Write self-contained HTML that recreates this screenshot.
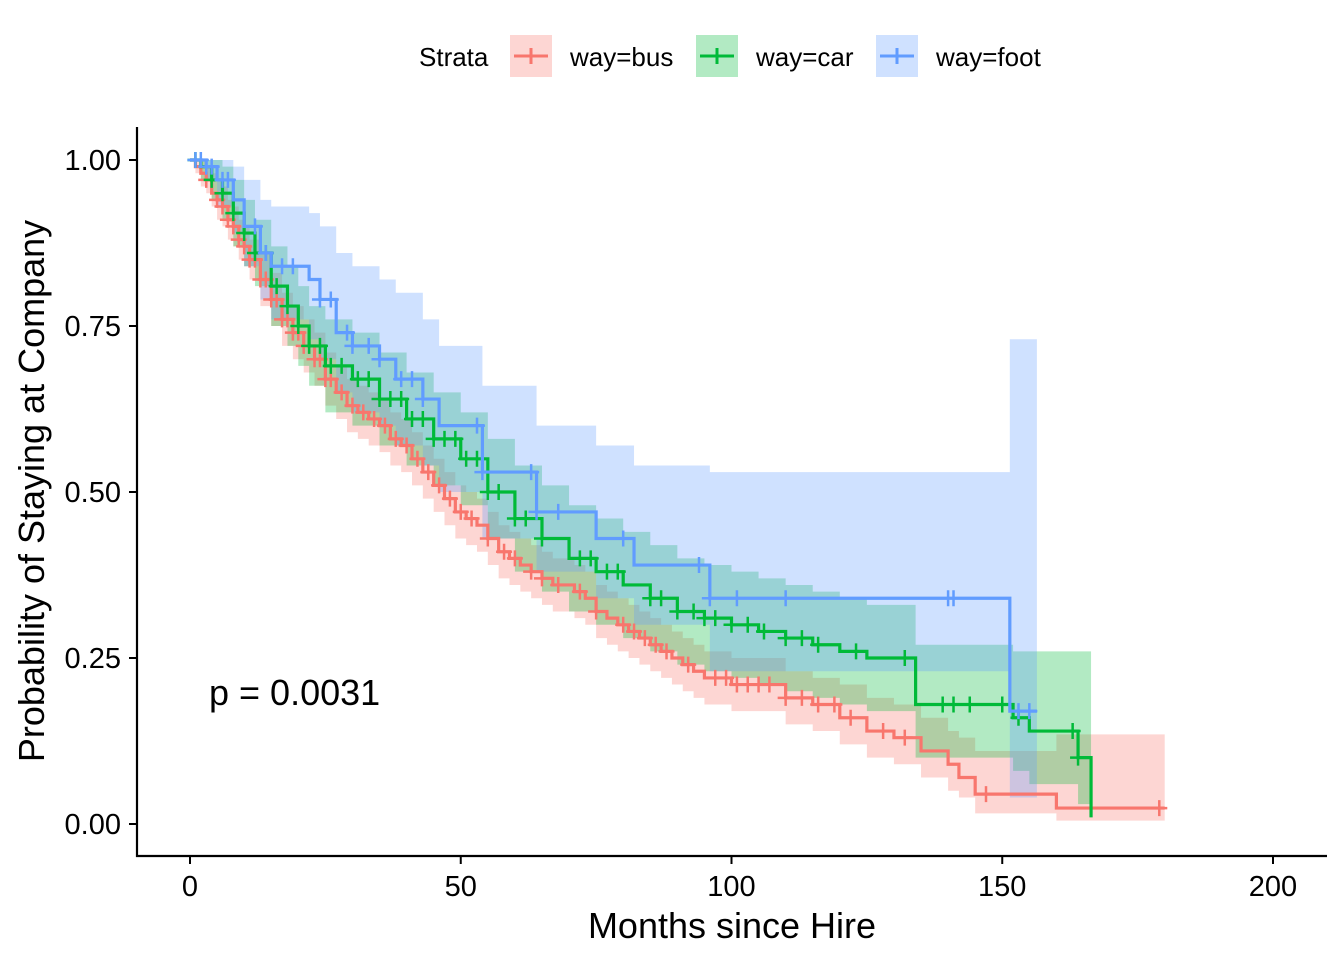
<!DOCTYPE html>
<html><head><meta charset="utf-8"><style>
html,body{margin:0;padding:0;background:#fff;}
svg{display:block;font-family:"Liberation Sans",Arial,sans-serif;}
</style></head><body>
<svg id="chart" width="1344" height="960">
<g id="bands"></g>
<g id="lines"></g>
<g id="axes"></g>
<g id="legend"></g>
<text x="209" y="705" font-size="36">p = 0.0031</text>
<text x="732" y="938" font-size="36" text-anchor="middle">Months since Hire</text>
<text transform="translate(44,491) rotate(-90)" font-size="36" text-anchor="middle">Probability of Staying at Company</text>
</svg>
<script>
const busT=[0,1,2,3,4,5,6,7,8,9,10,11,13,15,17,19,21,23,25,27,29,31,33,35,37,39,41,43,45,47,49,51,53,55,57,59,61,63,65,67,69,71,73,75,77,79,81,83,85,87,89,91,93,95,100,105,110,115,120,125,130,135,140,142,145,160,180];
const busS=[1,.99,.98,.97,.95,.94,.93,.91,.90,.88,.87,.85,.82,.79,.76,.74,.72,.70,.67,.65,.63,.62,.61,.60,.58,.57,.55,.53,.51,.49,.47,.46,.45,.43,.41,.40,.39,.38,.37,.36,.36,.35,.34,.32,.31,.30,.29,.28,.27,.26,.25,.24,.23,.22,.21,.21,.19,.18,.16,.14,.13,.11,.09,.07,.045,.024,.024];
const busU=[1,1,1,.99,.98,.97,.96,.94,.93,.91,.90,.88,.86,.83,.80,.78,.76,.74,.71,.69,.67,.66,.65,.64,.62,.61,.59,.57,.55,.53,.51,.50,.49,.47,.45,.44,.43,.42,.41,.40,.40,.39,.38,.36,.35,.34,.33,.32,.31,.30,.29,.28,.27,.26,.25,.25,.23,.22,.21,.19,.18,.16,.14,.13,.11,.135,.135];
const busL=[1,.98,.96,.95,.93,.91,.90,.88,.87,.85,.84,.82,.78,.75,.72,.70,.68,.66,.63,.61,.59,.58,.57,.56,.54,.53,.51,.49,.47,.45,.43,.42,.41,.39,.37,.36,.35,.34,.33,.32,.32,.31,.30,.28,.27,.26,.25,.24,.23,.22,.21,.20,.19,.18,.17,.17,.15,.14,.12,.10,.09,.07,.05,.04,.016,.005,.005];
const busC=[3,5,6,7,8,9,10,11,12,13,14,15,16,17,18,19,20,21,22,23,24,25,26,28,30,32,34,36,38,40,42,44,46,48,50,52,55,58,60,63,65,68,72,75,80,82,84,86,88,92,97,99,101,103,105,107,110,113,116,119,122,128,132,147,179];
const carT=[0,2,4,6,8,10,12,15,18,20,22,25,30,35,40,45,50,55,60,65,70,75,80,85,90,95,100,105,110,115,120,125,134,152,155,164,166.4];
const carS=[1,.99,.97,.95,.92,.89,.86,.81,.78,.75,.72,.69,.67,.64,.61,.58,.55,.50,.46,.43,.40,.38,.36,.34,.32,.31,.30,.29,.28,.27,.26,.25,.18,.16,.14,.10,.01];
const carU=[1,1,1,.99,.97,.94,.91,.87,.84,.81,.78,.76,.74,.71,.68,.65,.62,.58,.54,.51,.48,.46,.44,.42,.40,.39,.38,.37,.36,.35,.34,.33,.27,.26,.26,.26,.26];
const carL=[1,.97,.94,.91,.87,.84,.81,.75,.72,.69,.66,.62,.60,.57,.54,.51,.48,.43,.38,.35,.32,.30,.28,.26,.24,.23,.22,.21,.20,.19,.18,.17,.10,.08,.06,.03,.01];
const carC=[1,4,6,8,10,12,14,16,18,20,22,24,26,28,31,33,35,37,39,41,43,45,47,49,51,53,55,57,60,62,65,72,74,77,79,85,87,90,93,95,97,100,103,106,110,113,116,123,132,139,141,144,150,153,163,164];
const footT=[0,3,5,8,10,13,15,22,24,27,30,35,38,43,46,54,64,75,82,96,151.4,156.4];
const footS=[1,.99,.97,.94,.90,.86,.84,.82,.79,.74,.72,.70,.67,.64,.60,.53,.47,.43,.39,.34,.17,.17];
const footU=[1,1,1,.99,.97,.94,.93,.92,.90,.86,.84,.82,.80,.76,.72,.66,.60,.57,.54,.53,.73,.73];
const footL=[1,.97,.93,.89,.84,.79,.76,.73,.70,.65,.62,.60,.57,.54,.50,.43,.38,.34,.30,.23,.04,.04];
const footC=[1,2,3,4,6,7,12,14,17,19,24,26,29,30,33,35,39,41,43,53,54,63,64,68,80,94,96,101,110,140,141,153,155];
const xTicks=[0,50,100,150,200];
const yTicks=[0,0.25,0.5,0.75,1];
const yTickLabels=["0.00","0.25","0.50","0.75","1.00"];
const strata=["way=bus","way=car","way=foot"];

const X=t=>190+t*(1273-190)/200, Y=s=>824-s*664;
const NS="http://www.w3.org/2000/svg";
function mk(tag,parent,at){const e=document.createElementNS(NS,tag);for(const k in at)e.setAttribute(k,at[k]);parent.appendChild(e);return e;}
function stepPts(T,S){let p=[];for(let i=0;i<T.length;i++){if(i>0)p.push([X(T[i]),Y(S[i-1])]);p.push([X(T[i]),Y(S[i])]);}return p;}
function stepAt(T,S,t){let v=S[0];for(let i=0;i<T.length;i++){if(T[i]<=t)v=S[i];}return v;}
const series=[
 {n:"bus",T:busT,S:busS,U:busU,L:busL,C:busC,col:"#F8766D"},
 {n:"car",T:carT,S:carS,U:carU,L:carL,C:carC,col:"#00BA38"},
 {n:"foot",T:footT,S:footS,U:footU,L:footL,C:footC,col:"#619CFF"}];
const bands=document.getElementById('bands'),lines=document.getElementById('lines');
series.forEach(s=>{
 const up=stepPts(s.T,s.U),lo=stepPts(s.T,s.L).reverse();
 const b=mk('polygon',bands,{points:up.concat(lo).map(p=>p.join(',')).join(' '),fill:s.col,'fill-opacity':0.3});
 
 
});
series.forEach(s=>{
 const l=mk('polyline',lines,{points:stepPts(s.T,s.S).map(p=>p.join(',')).join(' '),fill:'none',stroke:s.col,'stroke-width':3.2});
 
 
 s.C.forEach(t=>{
  const x=X(t),y=Y(stepAt(s.T,s.S,t));
  const c=mk('path',lines,{d:`M${x-8},${y}H${x+8}M${x},${y-8}V${y+8}`,stroke:s.col,'stroke-width':2.5});
  
  
 });
});
const ax=document.getElementById('axes');
mk('path',ax,{d:'M137,127V856H1327',fill:'none',stroke:'#000','stroke-width':2.2});
xTicks.forEach(t=>{
 mk('line',ax,{x1:X(t),x2:X(t),y1:856,y2:864,stroke:'#000','stroke-width':2});
 const tx=mk('text',ax,{x:X(t),y:896,'font-size':29,'text-anchor':'middle',fill:'#000'});tx.textContent=t;
 
 
});
yTicks.forEach((v,i)=>{
 mk('line',ax,{x1:129,x2:137,y1:Y(v),y2:Y(v),stroke:'#000','stroke-width':2});
 const tx=mk('text',ax,{x:121,y:Y(v)+10,'font-size':29,'text-anchor':'end',fill:'#000'});tx.textContent=yTickLabels[i];
 
 
});
const lg=document.getElementById('legend');
const st=mk('text',lg,{x:419,y:66,'font-size':26});st.textContent="Strata";


const kx=[510,696,876],tx=[570,756,936];
series.forEach((s,i)=>{
 const g=mk('g',lg,{});
 
 
 mk('rect',g,{x:kx[i],y:35,width:42,height:42,fill:s.col,'fill-opacity':0.3});
 mk('path',g,{d:`M${kx[i]+4},56H${kx[i]+38}M${kx[i]+21},48V64`,stroke:s.col,'stroke-width':3});
 const t=mk('text',g,{x:tx[i],y:66,'font-size':26});t.textContent=strata[i];
});
</script>
</body></html>
